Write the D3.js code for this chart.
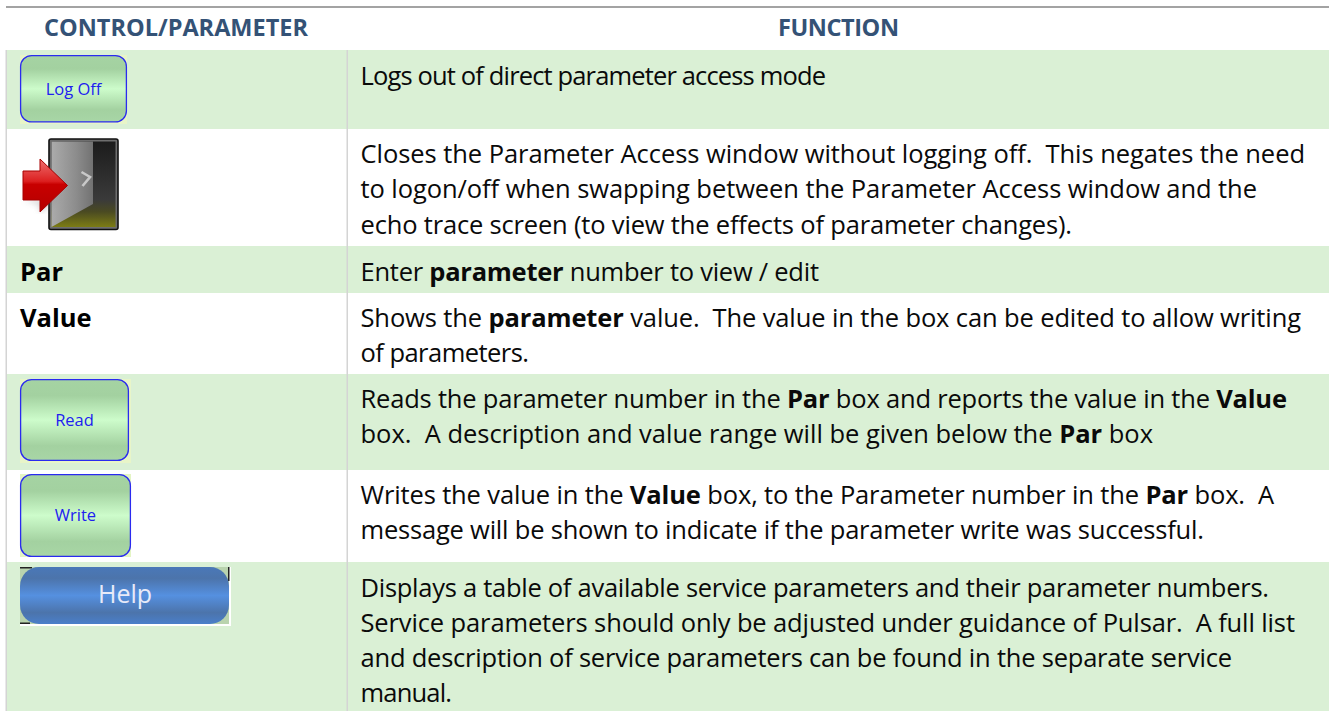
<!DOCTYPE html>
<html><head><meta charset="utf-8">
<script src="https://cdn.jsdelivr.net/npm/d3@7/dist/d3.min.js"></script>
<style>html,body{margin:0;background:#fff}svg{display:block}</style></head>
<body><svg id="c" width="1329" height="711"></svg>
<script>
const headers = ["CONTROL/PARAMETER", "FUNCTION"];
const rowLabels = ["Log Off", "Exit", "Par", "Value", "Read", "Write", "Help"];
// **x** marks bold runs
const rowLines = [
 ["Logs out of direct parameter access mode"],
 ["Closes the Parameter Access window without logging off.  This negates the need","to logon/off when swapping between the Parameter Access window and the","echo trace screen (to view the effects of parameter changes)."],
 ["Enter **parameter** number to view / edit"],
 ["Shows the **parameter** value.  The value in the box can be edited to allow writing","of parameters."],
 ["Reads the parameter number in the **Par** box and reports the value in the **Value**","box.  A description and value range will be given below the **Par** box"],
 ["Writes the value in the **Value** box, to the Parameter number in the **Par** box.  A","message will be shown to indicate if the parameter write was successful."],
 ["Displays a table of available service parameters and their parameter numbers.","Service parameters should only be adjusted under guidance of Pulsar.  A full list","and description of service parameters can be found in the separate service","manual."]
];
const rowEdges = [50,129,246,293,374,470,562,711];
const rowFill = ["#daf0d5","#fff","#daf0d5","#fff","#daf0d5","#fff","#daf0d5"];
const firstBase = [85,163,281,327,408,504,597];
const lineGap = [0,35.3,0,35,35,35,35];
const lineRight = [[826],[1305,1257,1072],[819],[1301,529],[1287,1153],[1274,1204],[1269,1295,1232,452]];
const font = "'Open Sans','Noto Sans',sans-serif";
const svg = d3.select("#c");
const defs = svg.append("defs");
function grad(id, stops, horiz){
  const g = defs.append("linearGradient").attr("id",id).attr("x1",0).attr("x2",horiz?1:0).attr("y1",0).attr("y2",horiz?0:1);
  g.selectAll("stop").data(stops).join("stop").attr("offset",d=>d[0]).attr("stop-color",d=>d[1]);
}
grad("gb",[[0,"#a5d3a3"],[.2,"#a3d1a0"],[.5,"#cdfccb"],[.82,"#a3d1a0"],[1,"#a8d6a6"]]);
grad("bb",[[0,"#4a78b8"],[.2,"#4c74ab"],[.5,"#5590e0"],[.8,"#4c74ab"],[1,"#4a7fca"]]);
grad("dl",[[0,"#ababab"],[.6,"#8c8c8c"],[1,"#727272"]],true);
grad("dd",[[0,"#1c1c1c"],[.68,"#3a3a3a"],[.82,"#4a4a22"],[1,"#7c7c14"]]);
grad("ar",[[0,"#ee7070"],[.42,"#dc2020"],[.48,"#c80000"],[1,"#b40000"]]);
defs.append("filter").attr("id","blur").append("feGaussianBlur").attr("stdDeviation",3);

function fit(t, left, right){
  const len = t.node().getComputedTextLength();
  const n = t.text().length;
  t.attr("letter-spacing", ((right-left)-len)/(n-1));
}

svg.append("rect").attr("x",6).attr("y",6).attr("width",1323).attr("height",2).attr("fill","#a3a3a3");
svg.selectAll("rect.row").data(rowFill).join("rect").attr("class","row")
  .attr("x",7).attr("width",1322).attr("y",(d,i)=>rowEdges[i]).attr("height",(d,i)=>rowEdges[i+1]-rowEdges[i]).attr("fill",d=>d);
svg.append("rect").attr("x",5.5).attr("y",50).attr("width",1.5).attr("height",661).attr("fill","#d4d4d4");
svg.append("rect").attr("x",346.5).attr("y",50).attr("width",1.5).attr("height",661).attr("fill","#d4d4d4");

const headLeft=[44,778], headRight=[308,899];
headers.forEach((h,i)=>{
  const t = svg.append("text").attr("x",headLeft[i]).attr("y",36)
    .attr("font-family",font).attr("font-weight",700).attr("font-size",23.5).attr("fill","#345276").text(h);
  fit(t,headLeft[i],headRight[i]);
});

const x0 = 360.5, fs = 25.5;
rowLines.forEach((lines,i)=>{
  lines.forEach((ln,j)=>{
    const t = svg.append("text").attr("x",x0).attr("y",firstBase[i]+j*lineGap[i])
      .attr("font-family",font).attr("font-size",fs).attr("fill","#0a0a0a").style("white-space","pre");
    ln.split("**").forEach((s,k)=>{ t.append("tspan").attr("font-weight",k%2?700:400).text(s); });
    fit(t,x0,lineRight[i][j]);
  });
});
svg.selectAll("text.l").data([2,3]).join("text").attr("class","l").attr("x",20)
  .attr("y",i=>firstBase[i]).attr("font-family",font).attr("font-weight",700).attr("font-size",fs).text(i=>rowLabels[i]);

function greenBtn(x,y,w,h,label,bgW,bgH,base,fill){
  svg.append("rect").attr("x",x).attr("y",y).attr("width",bgW).attr("height",bgH).attr("fill",fill);
  svg.append("rect").attr("x",x+.6).attr("y",y+.6).attr("width",w-1.2).attr("height",h-1.2).attr("rx",11).attr("fill","url(#gb)").attr("stroke","#2a2af0").attr("stroke-width",1.3);
  svg.append("text").attr("x",x+w/2).attr("y",base).attr("text-anchor","middle").attr("font-family",font).attr("font-size",16.5).attr("fill","#2020f0").text(label);
}
greenBtn(20,55,107,67.5,rowLabels[0],107,69,95,"#e8f5c8");
greenBtn(20,379,109,82,rowLabels[4],111,84,425.5,"#e8f5c8");
greenBtn(20,474,111,83,rowLabels[5],111,83,521,"#e4f5c4");

// door icon
svg.append("rect").attr("x",49).attr("y",139).attr("width",69).attr("height",90.5).attr("rx",2).attr("fill","#6e6e6e").attr("stroke","#111").attr("stroke-width",1.6);
svg.append("rect").attr("x",51.5).attr("y",141.5).attr("width",64).attr("height",85.5).attr("fill","url(#dd)");
svg.append("path").attr("d","M51.5 141.5H93V204L51.5 227Z").attr("fill","url(#dl)");
svg.append("path").attr("d","M81.5 172L90 177L82.5 186").attr("fill","none").attr("stroke","#c8c8c8").attr("stroke-width",2.6);
svg.append("path").attr("d","M24 200H40V212L58 196L40 204Z").attr("fill","#777").attr("opacity",.5).attr("filter","url(#blur)");
svg.append("path").attr("d","M23 171H40V159L67.5 185.5L40 212V200H23Z").attr("fill","url(#ar)").attr("stroke","#a80000").attr("stroke-width",1);

// help button
svg.append("rect").attr("x",20).attr("y",567).attr("width",211).attr("height",59).attr("fill","#fff");
svg.append("rect").attr("x",20).attr("y",567).attr("width",209).attr("height",57).attr("fill","#b9d3ae");
svg.append("rect").attr("x",20).attr("y",567).attr("width",12).attr("height",1.5).attr("fill","#222");
svg.append("rect").attr("x",228).attr("y",567).attr("width",1.5).attr("height",14).attr("fill","#222");
svg.append("rect").attr("x",20).attr("y",622.5).attr("width",10).attr("height",1.5).attr("fill","#222");
svg.append("rect").attr("x",20).attr("y",567).attr("width",209).attr("height",57).attr("rx",19).attr("fill","url(#bb)");
svg.append("text").attr("x",125).attr("y",603).attr("text-anchor","middle").attr("font-family",font).attr("font-size",25).attr("fill","#e8eaf8").text(rowLabels[6]);
</script></body></html>
